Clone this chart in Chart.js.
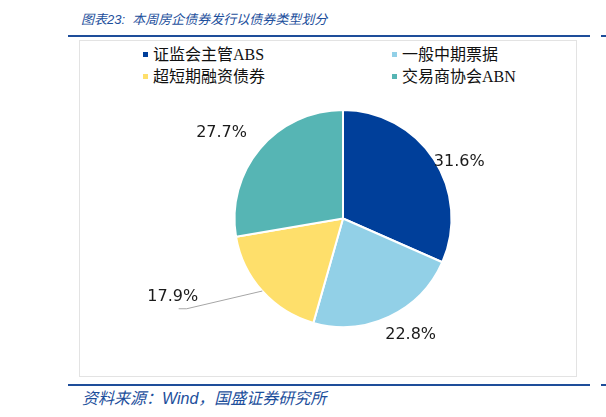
<!DOCTYPE html>
<html><head><meta charset="utf-8">
<script src="https://cdn.jsdelivr.net/npm/chart.js@4"></script>
<style>
html,body{margin:0;padding:0;background:#fff;width:606px;height:417px;overflow:hidden;position:relative;}
.t{position:absolute;color:#1D4F9C;font-style:italic;font-family:"Liberation Sans","Noto Sans CJK SC",sans-serif;white-space:nowrap;}
.ln{position:absolute;background:#1E4E9A;height:2px;}
#box{position:absolute;left:79px;top:40px;width:498px;height:337px;border:1px solid #E3E3E3;box-sizing:border-box;}
#leg{position:absolute;left:0;top:0;}
.li{position:absolute;font-family:"Liberation Serif","Noto Sans CJK SC",serif;font-size:16px;color:#111;white-space:nowrap;line-height:18px;}
.li span{display:inline-block;width:5px;height:5px;margin-right:5px;vertical-align:middle;position:relative;top:-2px;}
canvas{position:absolute;left:0;top:0;}
</style></head>
<body>
<div class="t" style="left:81px;top:9px;font-size:13px;">图表23:&nbsp; 本周房企债券发行以债券类型划分</div>
<div class="ln" style="left:68px;top:35px;width:522px;"></div>
<div class="ln" style="left:601px;top:35px;width:5px;"></div>
<div id="box"></div>
<div id="leg"></div>
<div class="ln" style="left:68px;top:384px;width:522px;"></div>
<div class="ln" style="left:601px;top:384px;width:5px;"></div>
<div class="t" style="left:82px;top:385px;font-size:16px;">资料来源：Wind，国盛证券研究所</div>
<div style="position:absolute;left:0;top:0;width:606px;height:417px;"><canvas id="c" width="606" height="417"></canvas></div>
<script>
const categories = ["证监会主管ABS","一般中期票据","超短期融资债券","交易商协会ABN"];
const shares = [31.6, 22.8, 17.9, 27.7];
const colors = ["#003F9A","#92D0E7","#FEDF6B","#56B5B4"];

// HTML legend built from the arrays (two columns)
const leg = document.getElementById('leg');
const legPos = [[143,46],[392,46],[143,68],[392,68]];
categories.forEach((c,i)=>{
  const d=document.createElement('div');d.className='li';
  d.style.left=legPos[i][0]+'px';d.style.top=legPos[i][1]+'px';
  d.innerHTML='<span style="background:'+colors[i]+'"></span>'+c;
  leg.appendChild(d);
});

// label placement tweaks: angle offset (deg), radial extra distance
const labelTweak = [
  {da:7, dr:21},
  {da:-5, dr:26},
  {leader:true, elbowAngle:240, elbowDr:72},
  {da:-5, dr:40}
];

const labelPlugin = {
  id:'lbl',
  afterDatasetsDraw(chart){
    const ctx=chart.ctx;
    const meta=chart.getDatasetMeta(0);
    ctx.save();
    ctx.font='16px "DejaVu Sans", Verdana, sans-serif';
    ctx.fillStyle='#1a1a1a';
    ctx.textAlign='center';ctx.textBaseline='middle';
    meta.data.forEach((arc,i)=>{
      const p=arc.getProps(['x','y','startAngle','endAngle','outerRadius'],true);
      const mid=(p.startAngle+p.endAngle)/2;
      const tw=labelTweak[i];
      const txt=shares[i].toFixed(1)+'%';
      if(tw.leader){
        const sx=p.x+Math.cos(mid)*p.outerRadius, sy=p.y+Math.sin(mid)*p.outerRadius;
        const ea=(tw.elbowAngle-90)*Math.PI/180;
        const ex=p.x+Math.cos(ea)*(p.outerRadius+tw.elbowDr), ey=p.y+Math.sin(ea)*(p.outerRadius+tw.elbowDr);
        ctx.strokeStyle='#A6A6A6';ctx.lineWidth=1;
        ctx.beginPath();ctx.moveTo(sx,sy);ctx.lineTo(ex,ey);ctx.lineTo(ex-8,ey);ctx.stroke();
        ctx.fillText(txt,ex-14,ey-12);
      } else {
        const a=mid+tw.da*Math.PI/180, r=p.outerRadius+tw.dr;
        ctx.fillText(txt,p.x+Math.cos(a)*r,p.y+Math.sin(a)*r);
      }
    });
    ctx.restore();
  }
};

new Chart(document.getElementById('c'),{
  type:'pie',
  data:{labels:categories,datasets:[{data:shares,backgroundColor:colors,borderColor:'#fff',borderWidth:2}]},
  options:{
    responsive:false,animation:false,
    layout:{padding:{left:233,right:153,top:109,bottom:89}},
    plugins:{legend:{display:false},tooltip:{enabled:false}}
  },
  plugins:[labelPlugin]
});
</script>
</body></html>
